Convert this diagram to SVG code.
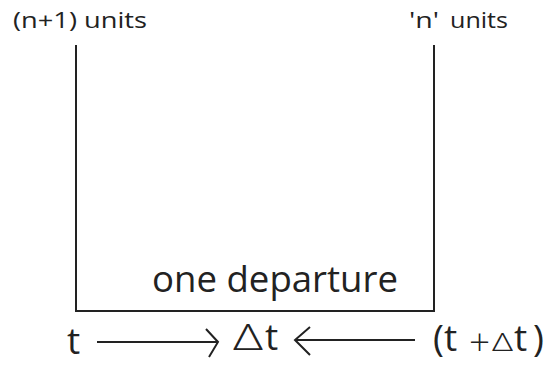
<svg xmlns="http://www.w3.org/2000/svg" width="547" height="368" viewBox="0 0 547 368">
<style>
text{font-family:"Open Sans","Liberation Sans",sans-serif;fill:#222}
.lbl{font-size:21px}
.big{font-size:37px}
.bot{font-size:37px}
.delta{font-weight:300}
.ln{stroke:#222;stroke-width:2;fill:none}
</style>
<rect width="547" height="368" fill="#fff"/>
<g id="frame"><path class="ln" d="M76,45 V311 H434 V45"/></g>
<g id="label-left"><text class="lbl" x="13" y="28" textLength="134" lengthAdjust="spacingAndGlyphs">(n+1) units</text></g>
<g id="label-right"><text class="lbl" y="28"><tspan x="409" textLength="30" lengthAdjust="spacingAndGlyphs">'n'</tspan><tspan x="450" textLength="58" lengthAdjust="spacingAndGlyphs">units</tspan></text></g>
<g id="departure"><text class="big" x="152" y="292" textLength="246" lengthAdjust="spacingAndGlyphs">one departure</text></g>
<g id="t"><text class="bot" x="67" y="354">t</text></g>
<g id="dt">
<text class="delta" x="233" y="350" font-size="36" textLength="30" lengthAdjust="spacingAndGlyphs">Δ</text>
<text class="bot" x="265" y="350">t</text>
</g>
<g id="tdt">
<text class="bot" y="351"><tspan x="433">(</tspan><tspan x="444">t</tspan><tspan x="469" y="355" font-weight="300">+</tspan><tspan x="514" y="351">t</tspan><tspan x="533">)</tspan></text>
<text class="delta" x="492" y="351" font-size="26" textLength="21" lengthAdjust="spacingAndGlyphs">Δ</text>
</g>
<g id="connectors">
<path class="ln" stroke-width="1.6" d="M97,342 H218 M206,329 L218,342 L209,357"/>
<path class="ln" stroke-width="1.6" d="M415,340 H295 M310,327 L295,340 L310,355"/>
</g>
</svg>
